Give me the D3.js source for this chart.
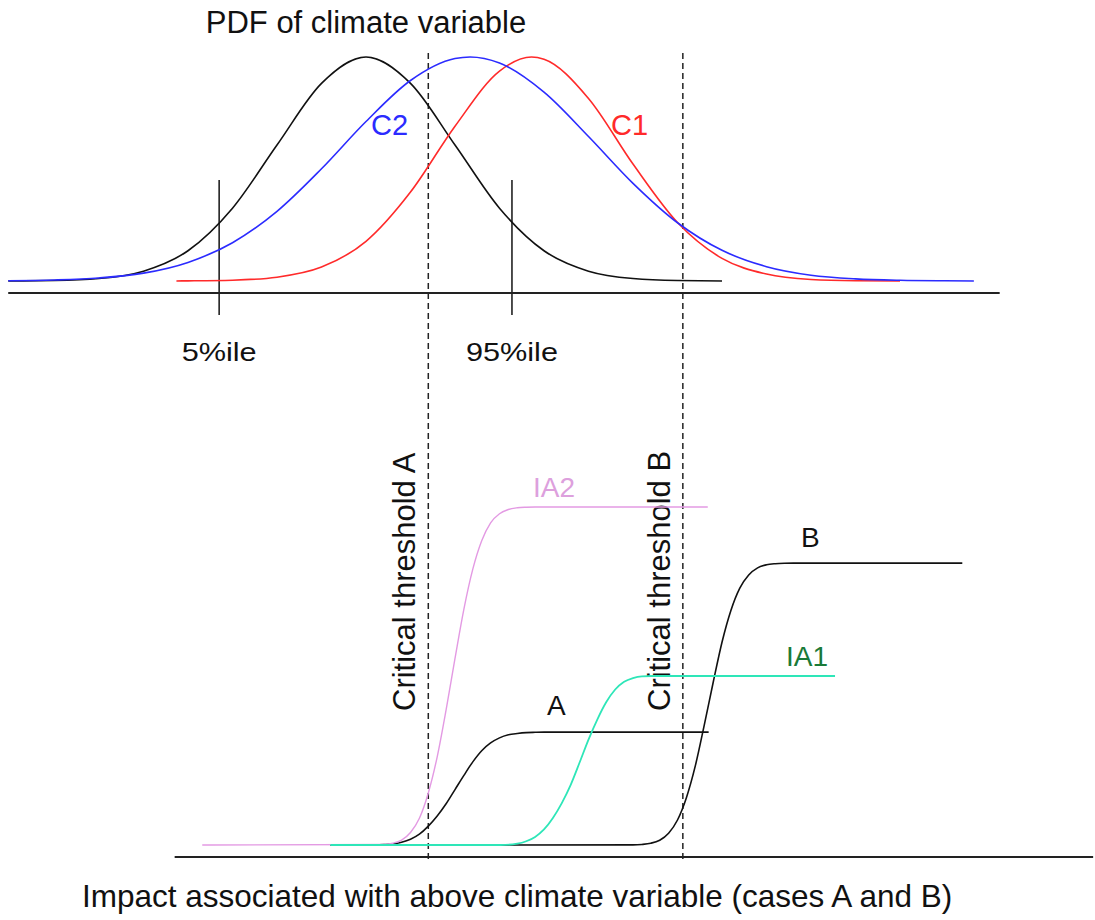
<!DOCTYPE html>
<html>
<head>
<meta charset="utf-8">
<script src="https://cdn.jsdelivr.net/npm/d3@7/dist/d3.min.js"></script>
<style>
  html, body { margin: 0; padding: 0; background: #fff; }
  svg text { font-family: "Liberation Sans", Arial, Helvetica, sans-serif; }
</style>
</head>
<body>
<svg id="chart" width="1095" height="920"></svg>
<script>
// ---------- data (climate variable in units of the baseline PDF's sd) ----------
// PDF curves: [x, relative density]
const pdfBaseline = [[-4.02,0.0003],[-3.5,0.002],[-3,0.011],[-2.5,0.044],[-2,0.135],[-1.5,0.325],[-1,0.607],[-0.5,0.882],[0,1],[0.5,0.882],[1,0.607],[1.5,0.325],[2,0.135],[2.5,0.044],[3,0.011],[3.5,0.002],[4.0,0.0003]];
const pdfC2 = [[-4.02,0.0012],[-3.5,0.0045],[-3,0.0134],[-2.5,0.035],[-2,0.083],[-1.5,0.171],[-1,0.311],[-0.5,0.501],[0,0.712],[0.5,0.895],[1,0.993],[1.17,1],[1.5,0.973],[2,0.843],[2.5,0.645],[3,0.436],[3.5,0.26],[4,0.137],[4.5,0.064],[5,0.026],[5.5,0.0096],[6,0.0031],[6.5,0.0009],[6.83,0.0003]];
const pdfC1 = [[-2.13,0.0002],[-2,0.0006],[-1.5,0.0035],[-1,0.017],[-0.5,0.062],[0,0.177],[0.5,0.397],[1,0.691],[1.5,0.937],[1.86,1],[2,0.99],[2.5,0.815],[3,0.522],[3.5,0.261],[4,0.101],[4.5,0.031],[5,0.007],[5.5,0.0013],[6,0.0002]];
// Impact curves: [x, impact]
const impactA = [[-0.40,0],[0.1,0.0004],[0.2,0.0012],[0.3,0.003],[0.4,0.008],[0.5,0.017],[0.6,0.032],[0.7,0.056],[0.8,0.086],[0.9,0.122],[1.0,0.164],[1.1,0.206],[1.2,0.246],[1.3,0.279],[1.4,0.302],[1.5,0.317],[1.6,0.326],[1.7,0.33],[1.8,0.3326],[1.9,0.3335],[2.0,0.334],[3.85,0.334]];
const impactB = [[-0.40,0],[3.0,0.0004],[3.1,0.0017],[3.2,0.0052],[3.3,0.0142],[3.4,0.035],[3.5,0.074],[3.6,0.14],[3.7,0.234],[3.8,0.354],[3.9,0.48],[4.0,0.6],[4.1,0.694],[4.2,0.76],[4.3,0.799],[4.4,0.82],[4.5,0.829],[4.6,0.8323],[4.7,0.8336],[4.8,0.834],[6.70,0.834]];
const impactIA2 = [[-1.84,0],[0.2,0.0016],[0.3,0.0052],[0.4,0.0146],[0.5,0.037],[0.6,0.079],[0.7,0.154],[0.8,0.261],[0.9,0.40],[1.0,0.552],[1.1,0.698],[1.2,0.816],[1.3,0.90],[1.4,0.953],[1.5,0.98],[1.6,0.9927],[1.7,0.9976],[1.8,0.9993],[1.9,1],[3.84,1]];
const impactIA1 = [[-0.40,0],[1.51,0],[1.70,0.004],[1.80,0.011],[1.90,0.024],[2.00,0.046],[2.10,0.08],[2.20,0.124],[2.30,0.178],[2.40,0.244],[2.50,0.312],[2.60,0.372],[2.70,0.423],[2.80,0.46],[2.90,0.483],[3.00,0.494],[3.10,0.499],[3.22,0.5],[5.27,0.5]];
const thresholds = [0.70, 3.56];
const thresholdNames = ["Critical threshold A", "Critical threshold B"];
const percentiles = [-1.65, 1.64];
const percentileNames = ["5%ile", "95%ile"];
const pdfAxisExtent = [-4.02, 7.12];
const impactAxisExtent = [-2.15, 8.17];

// ---------- scales ----------
const svg = d3.select("#chart");
const x = d3.scaleLinear().domain([-4, 8]).range([10, 1078]);
const yPdf = d3.scaleLinear().domain([0, 1]).range([281, 57]);
const yImp = d3.scaleLinear().domain([0, 1]).range([845, 507]);
const topAxisY = yPdf(0) + 12;
const botAxisY = yImp(0) + 12;

const linePdf = d3.line().x(d => x(d[0])).y(d => yPdf(d[1])).curve(d3.curveMonotoneX);
const lineImp = d3.line().x(d => x(d[0])).y(d => yImp(d[1])).curve(d3.curveMonotoneX);

// axes
svg.append("line").attr("x1", x(pdfAxisExtent[0])).attr("x2", x(pdfAxisExtent[1]))
  .attr("y1", topAxisY).attr("y2", topAxisY).attr("stroke", "#222").attr("stroke-width", 1.8);
svg.append("line").attr("x1", x(impactAxisExtent[0])).attr("x2", x(impactAxisExtent[1]))
  .attr("y1", botAxisY).attr("y2", botAxisY).attr("stroke", "#222").attr("stroke-width", 1.8);

// percentile ticks
svg.selectAll(".pct").data(percentiles).enter().append("line")
  .attr("x1", d => x(d)).attr("x2", d => x(d))
  .attr("y1", 180).attr("y2", 315).attr("stroke", "#222").attr("stroke-width", 1.6);
svg.selectAll(".pctl").data(percentiles).enter().append("text")
  .attr("x", d => x(d)).attr("y", 361).attr("text-anchor", "middle")
  .attr("font-size", 25).attr("fill", "#111")
  .attr("textLength", (d, i) => i === 0 ? 75 : 92).attr("lengthAdjust", "spacingAndGlyphs")
  .text((d, i) => percentileNames[i]);

// thresholds (dashed)
svg.selectAll(".thr").data(thresholds).enter().append("line")
  .attr("x1", d => x(d)).attr("x2", d => x(d))
  .attr("y1", 53).attr("y2", botAxisY + 6)
  .attr("stroke", "#222").attr("stroke-width", 1.5).attr("stroke-dasharray", "6,4");
svg.selectAll(".thrl").data(thresholds).enter().append("text")
  .attr("transform", d => `translate(${x(d) - 13},711) rotate(-90)`)
  .attr("font-size", 31).attr("fill", "#111")
  .text((d, i) => thresholdNames[i]);

// PDF curves
svg.append("path").attr("d", linePdf(pdfBaseline)).attr("fill", "none").attr("stroke", "#111").attr("stroke-width", 1.6);
svg.append("path").attr("d", linePdf(pdfC1)).attr("fill", "none").attr("stroke", "#ff2a2a").attr("stroke-width", 1.6);
svg.append("path").attr("d", linePdf(pdfC2)).attr("fill", "none").attr("stroke", "#2b2bff").attr("stroke-width", 1.6);

// impact curves
svg.append("path").attr("d", lineImp(impactA)).attr("fill", "none").attr("stroke", "#111").attr("stroke-width", 1.6);
svg.append("path").attr("d", lineImp(impactB)).attr("fill", "none").attr("stroke", "#111").attr("stroke-width", 1.6);
svg.append("path").attr("d", lineImp(impactIA2)).attr("fill", "none").attr("stroke", "#e39ae3").attr("stroke-width", 1.4);
svg.append("path").attr("d", lineImp(impactIA1)).attr("fill", "none").attr("stroke", "#2ee6b8").attr("stroke-width", 1.8);

// labels
svg.append("text").attr("x", 366).attr("y", 33).attr("text-anchor", "middle")
  .attr("font-size", 31).attr("fill", "#111").text("PDF of climate variable");
svg.append("text").attr("x", 371).attr("y", 135).attr("font-size", 29).attr("fill", "#2b2bff").text("C2");
svg.append("text").attr("x", 611).attr("y", 135).attr("font-size", 29).attr("fill", "#ff2a2a").text("C1");
svg.append("text").attr("x", 547).attr("y", 715).attr("font-size", 28).attr("fill", "#111").text("A");
svg.append("text").attr("x", 801).attr("y", 547).attr("font-size", 28).attr("fill", "#111").text("B");
svg.append("text").attr("x", 786).attr("y", 666).attr("font-size", 28).attr("fill", "#1a7a38").text("IA1");
svg.append("text").attr("x", 533).attr("y", 497).attr("font-size", 28).attr("fill", "#dda0dd").text("IA2");
svg.append("text").attr("x", 82).attr("y", 907).attr("font-size", 31.5).attr("fill", "#111")
  .text("Impact associated with above climate variable (cases A and B)");
</script>
</body>
</html>
